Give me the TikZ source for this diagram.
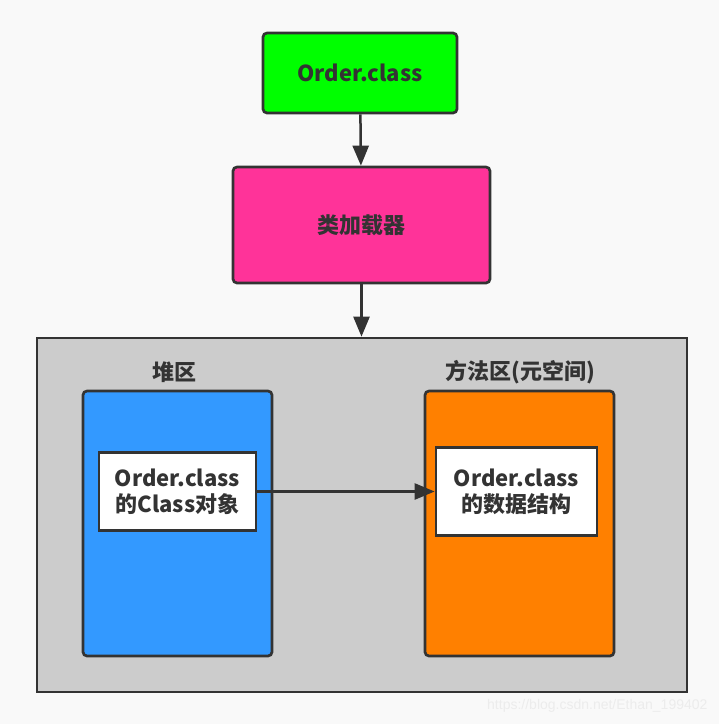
\documentclass[tikz,border=0pt]{standalone}
\usepackage{fontspec}
\usepackage{xcolor}
\usepackage{tikz}
\usetikzlibrary{arrows.meta}
\setmainfont{Noto Sans CJK SC}
\newfontfamily\wmfont{Liberation Sans}
\definecolor{pagegray}{RGB}{249, 249, 249}
\definecolor{linegray}{RGB}{51, 51, 51}
\definecolor{classgreen}{RGB}{0, 255, 0}
\definecolor{loaderpink}{RGB}{255, 51, 153}
\definecolor{areagray}{RGB}{204, 204, 204}
\definecolor{heapblue}{RGB}{51, 153, 255}
\definecolor{methodorange}{RGB}{255, 128, 0}
\definecolor{markgray}{RGB}{236, 236, 236}

\begin{document}
\begin{tikzpicture}[
        x=1pt, y=-1pt,
        every node/.style={align=center, text=linegray, font=\bfseries\fontsize{22}{26}\selectfont},
        box/.style={draw=linegray, line width=2.7pt, rounded corners=4pt, inner sep=0pt},
        inbox/.style={draw=linegray, line width=2.7pt, fill=white, inner sep=0pt},
        flow/.style={-{Triangle[length=20pt,width=16pt]}, line width=2.5pt, linegray}
    ]
        \fill[pagegray] (0,0) rectangle (719,724);
        \useasboundingbox (0,0) rectangle (719,724);

        % Top: class file and loader
        \node[box, fill=classgreen, minimum width=194pt, minimum height=80pt] (orderclass) at (360,73) {Order.class};
        \node[box, fill=loaderpink, minimum width=257pt, minimum height=116pt] (loader) at (361.5,225) {类加载器};

        % Runtime data area
        \node[draw=linegray, line width=2.7pt, fill=areagray, inner sep=0pt, minimum width=650pt, minimum height=354pt] (area) at (362,515) {};
        \node (heaplabel) at (174,372) {堆区};
        \node (methodlabel) at (520,372) {方法区(元空间)};
        \node[box, fill=heapblue, minimum width=189pt, minimum height=265pt] (heap) at (177.5,523.5) {};
        \node[box, fill=methodorange, minimum width=189pt, minimum height=265pt] (method) at (519.5,523.5) {};
        \node[inbox, minimum width=157pt, minimum height=78pt] (classobj) at (177.5,491.5) {Order.class\\的Class对象};
        \node[inbox, minimum width=161pt, minimum height=88pt] (classdata) at (516.5,491.5) {Order.class\\的数据结构};

        % Arrows
        \draw[flow] (orderclass) -- (loader);
        \draw[flow] (loader) -- (area.north -| loader.south);
        \draw[flow] (classobj) -- (classdata);

        % Watermark
        \node[anchor=east, font=\wmfont\fontsize{14}{16}\selectfont, text=markgray] (mark) at (711,706) {https://blog.csdn.net/Ethan\_199402};
    \end{tikzpicture}
\end{document}
